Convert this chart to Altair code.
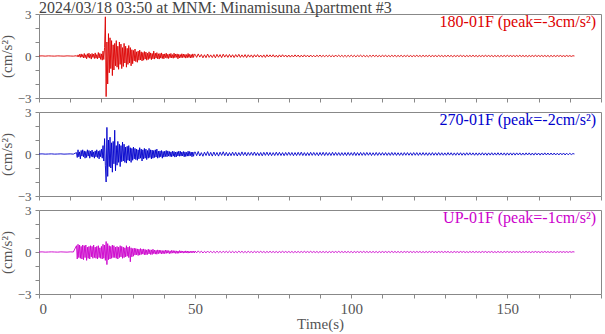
import altair as alt
import pandas as pd

# ---------------- data ----------------
# sampling segments: quiet pre-event, active part, coda tail
QUIET_T0, QUIET_DT = 0.0, 1.0
ACTIVE_T0, ACTIVE_DT = 12.0, 0.25
TAIL_T0, TAIL_DT = 50.0, 0.5

ns_quiet = [0, 0.01, -0.01, 0.01, 0, -0.01, 0.01, 0, -0.01, 0.01, 0, -0.01]
ns_active = [
    0.02, -0.05, 0.08, -0.06, 0.12, -0.1, 0.15, -0.08,
    0.1, -0.14, 0.18, -0.12, 0.09, -0.2, 0.16, -0.1,
    0.2, -0.15, 0.12, -0.22, 0.18, -0.1, 0.14, -0.18,
    0.22, -0.16, 0.1, -0.2, 0.25, -0.14, 0.18, -0.24,
    0.15, -0.3, 0.35, -0.25,
    0.6, 2.8, -2.9, 1.0,
    -2.0, 1.6, -1.2, 1.3,
    -0.9, 1.1, -1.4, 0.8,
    -1.0, 0.9, -0.7, 1.1,
    -0.8, 0.7, -0.95, 1.0,
    -0.6, 0.85, -0.9, 0.6,
    -0.75, 0.9, -0.5, 0.7,
    -0.8, 0.55, -0.6, 0.75,
    -0.5, 0.6, -0.7, 0.45,
    -0.55, 0.4, -0.35, 0.5,
    -0.4, 0.3, -0.45, 0.35,
    -0.3, 0.42, -0.28, 0.3,
    -0.35, 0.25, -0.3, 0.32,
    -0.22, 0.28, -0.3, 0.2,
    -0.25, 0.3, -0.18, 0.22,
    -0.26, 0.18, -0.2, 0.35,
    -0.22, 0.2, -0.15, 0.24,
    -0.2, 0.16, -0.22, 0.18,
    -0.15, 0.22, -0.18, 0.14,
    -0.2, 0.15, -0.12, 0.2,
    -0.16, 0.12, -0.18, 0.15,
    -0.12, 0.18, -0.14, 0.1,
    -0.16, 0.2, -0.12, 0.14,
    -0.1, 0.15, -0.2, 0.12,
    -0.14, 0.1, -0.12, 0.16,
    -0.12, 0.14, -0.1, 0.12,
    -0.15, 0.1, -0.12, 0.18,
    -0.1, 0.12, -0.14, 0.1,
    -0.12, 0.15, -0.1, 0.12,
]
ns_tail = [
    0.12, -0.1, 0.15, -0.08, 0.11, -0.13, 0.09, -0.12, 0.14, -0.1, 0.08, -0.11,
    0.1, -0.13, 0.12, -0.09, 0.1, -0.12, 0.13, -0.08, 0.1, -0.1, 0.11, -0.09,
    0.09, -0.11, 0.1, -0.08, 0.12, -0.1, 0.08, -0.09, 0.1, -0.11, 0.09, -0.08,
    0.08, -0.1, 0.09, -0.07, 0.1, -0.08, 0.07, -0.09, 0.08, -0.1, 0.09, -0.07,
    0.08, -0.07, 0.09, -0.08, 0.06, -0.09, 0.08, -0.07, 0.09, -0.06, 0.07, -0.08,
    0.07, -0.08, 0.06, -0.07, 0.08, -0.06, 0.07, -0.08, 0.06, -0.07, 0.08, -0.06,
    0.06, -0.07, 0.07, -0.06, 0.05, -0.07, 0.06, -0.05, 0.07, -0.06, 0.05, -0.06,
    0.06, -0.05, 0.06, -0.06, 0.05, -0.06, 0.07, -0.05, 0.06, -0.05, 0.05, -0.06,
    0.05, -0.06, 0.05, -0.05, 0.06, -0.05, 0.05, -0.06, 0.05, -0.04, 0.06, -0.05,
    0.05, -0.05, 0.04, -0.06, 0.05, -0.05, 0.06, -0.04, 0.05, -0.05, 0.04, -0.05,
    0.05, -0.04, 0.05, -0.05, 0.04, -0.05, 0.05, -0.04, 0.05, -0.05, 0.04, -0.04,
    0.05, -0.05, 0.04, -0.04, 0.05, -0.05, 0.04, -0.05, 0.04, -0.04, 0.05, -0.04,
    0.04, -0.05, 0.05, -0.04, 0.04, -0.04, 0.05, -0.05, 0.04, -0.04, 0.04, -0.05,
    0.05, -0.04, 0.04, -0.05, 0.04, -0.04, 0.05, -0.04, 0.04, -0.05, 0.04, -0.04,
    0.04, -0.04, 0.05, -0.04, 0.04, -0.05, 0.04, -0.04, 0.04, -0.04, 0.05, -0.04,
    0.04, -0.05, 0.04, -0.04, 0.04, -0.04, 0.05, -0.04, 0.04, -0.04, 0.04, -0.05,
    0.04, -0.04, 0.04, -0.05, 0.04, -0.04, 0.04, -0.04, 0.05, -0.04, 0.04, -0.04,
    0.04, -0.04, 0.04, -0.04, 0.05, -0.04, 0.04, -0.04, 0.04, -0.05, 0.04, -0.04,
    0.04, -0.04, 0.05, -0.04, 0.04, -0.04, 0.04, -0.04, 0.04, -0.04, 0.04, -0.05,
    0.04, -0.04, 0.04, -0.04, 0.04, -0.03, 0.04, -0.04, 0.03, -0.04, 0.04, -0.03,
    0.03, -0.03, 0.02, 0.0,
]

ew_quiet = [0, 0.01, -0.01, 0, 0.01, -0.01, 0, 0.01, -0.01, 0, 0.01, -0.01]
ew_active = [
    0.1, -0.25, 0.3, -0.2, 0.15, -0.35, 0.25, -0.15,
    0.3, -0.2, 0.22, -0.3, 0.18, -0.25, 0.3, -0.15,
    0.25, -0.3, 0.2, -0.18, 0.28, -0.22, 0.15, -0.3,
    0.22, -0.2, 0.3, -0.25, 0.2, -0.35, 0.25, -0.2,
    0.35, -0.3, 0.6, -0.5,
    1.1, -0.8, -2.0, 1.9,
    -1.6, 1.0, -0.9, 1.2,
    -1.0, 0.8, -1.3, 0.9,
    -0.7, 1.7, -1.2, 0.6,
    -0.8, 0.9, -0.6, 0.7,
    -0.9, 0.6, -0.55, 0.85,
    -0.5, 0.7, -0.6, 0.5,
    -0.65, 0.55, -0.45, 0.6,
    -0.5, 0.45, -0.6, 0.4,
    -0.45, 0.5, -0.35, 0.4,
    -0.4, 0.35, -0.45, 0.3,
    -0.35, 0.45, -0.3, 0.35,
    -0.5, 0.3, -0.35, 0.4,
    -0.3, 0.35, -0.4, 0.25,
    -0.3, 0.4, -0.25, 0.3,
    -0.35, 0.28, -0.3, 0.25,
    -0.25, 0.3, -0.22, 0.35,
    -0.3, 0.2, -0.25, 0.22,
    -0.2, 0.25, -0.3, 0.18,
    -0.22, 0.2, -0.18, 0.25,
    -0.2, 0.22, -0.15, 0.18,
    -0.18, 0.15, -0.2, 0.2,
    -0.15, 0.18, -0.22, 0.14,
    -0.2, 0.16, -0.14, 0.2,
    -0.16, 0.2, -0.15, 0.14,
    -0.14, 0.18, -0.2, 0.15,
    -0.18, 0.12, -0.15, 0.2,
    -0.15, 0.18, -0.12, 0.14,
    -0.2, 0.14, -0.16, 0.12,
]
ew_tail = [
    0.15, -0.12, 0.18, -0.14, 0.1, -0.16, 0.13, -0.11, 0.17, -0.13, 0.12, -0.15,
    0.14, -0.12, 0.11, -0.15, 0.13, -0.1, 0.16, -0.12, 0.12, -0.14, 0.1, -0.12,
    0.13, -0.11, 0.12, -0.14, 0.1, -0.12, 0.15, -0.1, 0.12, -0.13, 0.11, -0.1,
    0.12, -0.1, 0.14, -0.11, 0.1, -0.12, 0.11, -0.13, 0.12, -0.1, 0.13, -0.11,
    0.11, -0.12, 0.1, -0.11, 0.13, -0.1, 0.12, -0.11, 0.1, -0.12, 0.11, -0.1,
    0.12, -0.1, 0.11, -0.12, 0.1, -0.11, 0.12, -0.1, 0.13, -0.11, 0.1, -0.12,
    0.1, -0.11, 0.12, -0.1, 0.11, -0.1, 0.1, -0.12, 0.11, -0.1, 0.12, -0.11,
    0.11, -0.1, 0.1, -0.11, 0.12, -0.1, 0.11, -0.1, 0.1, -0.11, 0.1, -0.1,
    0.1, -0.11, 0.11, -0.1, 0.1, -0.1, 0.12, -0.11, 0.1, -0.1, 0.11, -0.1,
    0.1, -0.1, 0.11, -0.09, 0.1, -0.11, 0.09, -0.1, 0.11, -0.1, 0.1, -0.09,
    0.1, -0.09, 0.1, -0.1, 0.09, -0.1, 0.11, -0.09, 0.1, -0.1, 0.09, -0.1,
    0.09, -0.1, 0.1, -0.09, 0.1, -0.09, 0.09, -0.1, 0.1, -0.09, 0.1, -0.1,
    0.09, -0.09, 0.1, -0.09, 0.09, -0.1, 0.09, -0.09, 0.1, -0.09, 0.09, -0.09,
    0.1, -0.09, 0.09, -0.09, 0.08, -0.09, 0.1, -0.08, 0.09, -0.09, 0.08, -0.09,
    0.09, -0.08, 0.09, -0.09, 0.08, -0.09, 0.09, -0.08, 0.09, -0.08, 0.08, -0.09,
    0.08, -0.09, 0.08, -0.08, 0.09, -0.08, 0.08, -0.09, 0.08, -0.08, 0.09, -0.08,
    0.08, -0.08, 0.09, -0.08, 0.08, -0.08, 0.08, -0.09, 0.08, -0.08, 0.08, -0.08,
    0.08, -0.08, 0.08, -0.07, 0.08, -0.08, 0.07, -0.08, 0.08, -0.07, 0.08, -0.08,
    0.07, -0.08, 0.08, -0.07, 0.07, -0.08, 0.07, -0.07, 0.08, -0.07, 0.07, -0.07,
    0.07, -0.07, 0.07, -0.07, 0.06, -0.07, 0.07, -0.06, 0.07, -0.07, 0.06, -0.06,
    0.05, -0.04, 0.03, 0.0,
]

ud_quiet = [0, 0.01, -0.01, 0, 0.01, 0, -0.01, 0.01, 0, -0.01, 0.01, 0]
ud_active = [
    0.45, -0.5, 0.55, -0.4, 0.5, -0.45, 0.4, -0.5,
    0.5, -0.55, 0.45, -0.4, 0.5, -0.6, 0.35, -0.45,
    0.4, -0.5, 0.45, -0.35, 0.4, -0.45, 0.5, -0.4,
    0.35, -0.45, 0.4, -0.5, 0.45, -0.4, 0.3, -0.45,
    0.4, -0.5, 0.55, -0.45,
    0.5, -0.6, 0.75, -0.9,
    0.6, -0.55, 0.45, -0.5,
    0.4, -0.45, 0.5, -0.4,
    0.45, -0.4, 0.35, -0.45,
    0.4, -0.5, 0.35, -0.4,
    0.45, -0.35, 0.4, -0.45,
    0.35, -0.4, 0.3, -0.35,
    0.45, -0.3, 0.35, -0.4,
    0.4, -0.7, 0.3, -0.35,
    0.25, -0.3, 0.28, -0.22,
    0.25, -0.2, 0.22, -0.25,
    0.2, -0.22, 0.25, -0.18,
    0.2, -0.15, 0.22, -0.2,
    0.18, -0.2, 0.15, -0.18,
    0.2, -0.14, 0.16, -0.18,
    0.15, -0.18, 0.2, -0.12,
    0.14, -0.15, 0.12, -0.16,
    0.15, -0.12, 0.14, -0.1,
    0.12, -0.14, 0.1, -0.12,
    0.1, -0.12, 0.14, -0.1,
    0.12, -0.08, 0.1, -0.12,
    0.08, -0.1, 0.12, -0.08,
    0.1, -0.08, 0.09, -0.1,
    0.08, -0.1, 0.07, -0.09,
    0.1, -0.07, 0.08, -0.06,
    0.07, -0.08, 0.06, -0.07,
    0.08, -0.06, 0.07, -0.08,
    0.06, -0.07, 0.05, -0.06,
    0.07, -0.05, 0.06, -0.07,
]
ud_tail = [
    0.07, -0.06, 0.08, -0.05, 0.06, -0.07, 0.05, -0.06, 0.07, -0.05, 0.06, -0.06,
    0.05, -0.06, 0.06, -0.05, 0.05, -0.06, 0.06, -0.04, 0.05, -0.05, 0.06, -0.05,
    0.05, -0.05, 0.04, -0.05, 0.06, -0.04, 0.05, -0.05, 0.04, -0.05, 0.05, -0.04,
    0.04, -0.05, 0.05, -0.04, 0.04, -0.04, 0.05, -0.04, 0.04, -0.05, 0.04, -0.04,
    0.05, -0.04, 0.04, -0.04, 0.04, -0.05, 0.04, -0.04, 0.05, -0.04, 0.04, -0.04,
    0.04, -0.04, 0.04, -0.05, 0.04, -0.04, 0.04, -0.04, 0.04, -0.04, 0.05, -0.04,
    0.04, -0.04, 0.05, -0.04, 0.04, -0.04, 0.04, -0.05, 0.04, -0.04, 0.04, -0.04,
    0.04, -0.05, 0.04, -0.04, 0.04, -0.04, 0.04, -0.04, 0.05, -0.04, 0.04, -0.04,
    0.04, -0.04, 0.04, -0.04, 0.04, -0.05, 0.04, -0.04, 0.04, -0.04, 0.04, -0.04,
    0.05, -0.04, 0.04, -0.04, 0.04, -0.04, 0.04, -0.04, 0.04, -0.05, 0.04, -0.04,
    0.04, -0.04, 0.04, -0.04, 0.04, -0.04, 0.05, -0.04, 0.04, -0.04, 0.04, -0.04,
    0.04, -0.04, 0.04, -0.03, 0.04, -0.04, 0.04, -0.04, 0.04, -0.04, 0.04, -0.03,
    0.04, -0.04, 0.03, -0.04, 0.04, -0.04, 0.04, -0.03, 0.04, -0.04, 0.03, -0.04,
    0.04, -0.03, 0.04, -0.04, 0.04, -0.03, 0.04, -0.04, 0.03, -0.04, 0.04, -0.03,
    0.03, -0.04, 0.04, -0.03, 0.04, -0.04, 0.03, -0.04, 0.04, -0.03, 0.04, -0.04,
    0.04, -0.03, 0.03, -0.04, 0.04, -0.03, 0.04, -0.04, 0.03, -0.03, 0.04, -0.04,
    0.03, -0.04, 0.04, -0.03, 0.03, -0.04, 0.04, -0.03, 0.04, -0.03, 0.03, -0.04,
    0.04, -0.03, 0.03, -0.03, 0.04, -0.04, 0.03, -0.03, 0.04, -0.03, 0.03, -0.04,
    0.03, -0.03, 0.04, -0.03, 0.03, -0.04, 0.03, -0.03, 0.04, -0.03, 0.03, -0.03,
    0.03, -0.03, 0.03, -0.04, 0.03, -0.03, 0.03, -0.03, 0.03, -0.03, 0.03, -0.03,
    0.03, -0.02, 0.02, 0.0,
]

channels = ["180-01F", "270-01F", "UP-01F"]
peaks = ["-3", "-2", "-1"]
colors = ["#dd0000", "#0000cc", "#cc00cc"]
title_text = "2024/03/18 03:50 at MNM: Minamisuna Apartment #3"

# ---------------- build ----------------
FONT = "Liberation Serif"
GRAY = "#555555"
W, H = 562, 84


def make_df(q, a, t):
    times = ([QUIET_T0 + QUIET_DT * i for i in range(len(q))]
             + [ACTIVE_T0 + ACTIVE_DT * i for i in range(len(a))]
             + [TAIL_T0 + TAIL_DT * i for i in range(len(t))])
    return pd.DataFrame({"t": times, "v": q + a + t})


series = [
    make_df(ns_quiet, ns_active, ns_tail),
    make_df(ew_quiet, ew_active, ew_tail),
    make_df(ud_quiet, ud_active, ud_tail),
]


def panel(df, color, label, bottom, top_title=None):
    if bottom:
        xaxis = alt.Axis(values=list(range(0, 181, 10)),
                         labelExpr="datum.value % 50 == 0 ? datum.label : ''",
                         title="Time(s)", grid=False, domain=False,
                         tickSize=4, tickColor="#888888",
                         labelFont=FONT, labelFontSize=15, labelColor=GRAY,
                         titleFont=FONT, titleFontSize=15, titleColor=GRAY,
                         titleFontWeight="normal", labelPadding=3, titlePadding=0)
    else:
        xaxis = alt.Axis(values=list(range(0, 181, 10)), labels=False,
                         title=None, grid=False, domain=False,
                         tickSize=4, tickColor="#888888")
    yaxis = alt.Axis(values=[-3, -2, -1, 0, 1, 2, 3],
                     labelExpr="datum.value % 3 == 0 ? datum.label : ''",
                     title="(cm/s²)", grid=False, domain=False,
                     tickSize=4, tickColor="#888888",
                     labelFont=FONT, labelFontSize=13, labelColor=GRAY,
                     titleFont=FONT, titleFontSize=15, titleColor=GRAY,
                     titleFontWeight="normal", labelPadding=4, titlePadding=3)
    line = alt.Chart(df).mark_line(color=color, strokeWidth=0.9, clip=True).encode(
        x=alt.X("t:Q", scale=alt.Scale(domain=[0, 180], nice=False), axis=xaxis),
        y=alt.Y("v:Q", scale=alt.Scale(domain=[-3, 3], nice=False), axis=yaxis),
    )
    txt = alt.Chart(pd.DataFrame({"label": [label]})).mark_text(
        align="right", baseline="alphabetic", font=FONT, fontSize=16, color=color
    ).encode(x=alt.value(W - 5), y=alt.value(13), text="label:N")
    props = dict(width=W, height=H)
    if top_title:
        props["title"] = alt.TitleParams(top_title, anchor="start", frame="group",
                                         font=FONT, fontSize=16, fontWeight="normal",
                                         color="#444444", offset=1, dy=9)
    return alt.layer(line, txt).properties(**props)


panels = []
for i in range(3):
    label = f"{channels[i]} (peak={peaks[i]}cm/s²)"
    panels.append(panel(series[i], colors[i], label, bottom=(i == 2),
                        top_title=title_text if i == 0 else None))

chart = alt.vconcat(*panels, spacing=14, bounds="flush").properties(
    padding={"left": -2, "top": -1, "right": 0, "bottom": 0}
).configure_view(stroke="#888888", strokeWidth=1)

chart.save("out.html", embed_options={"renderer": "svg", "actions": False})
